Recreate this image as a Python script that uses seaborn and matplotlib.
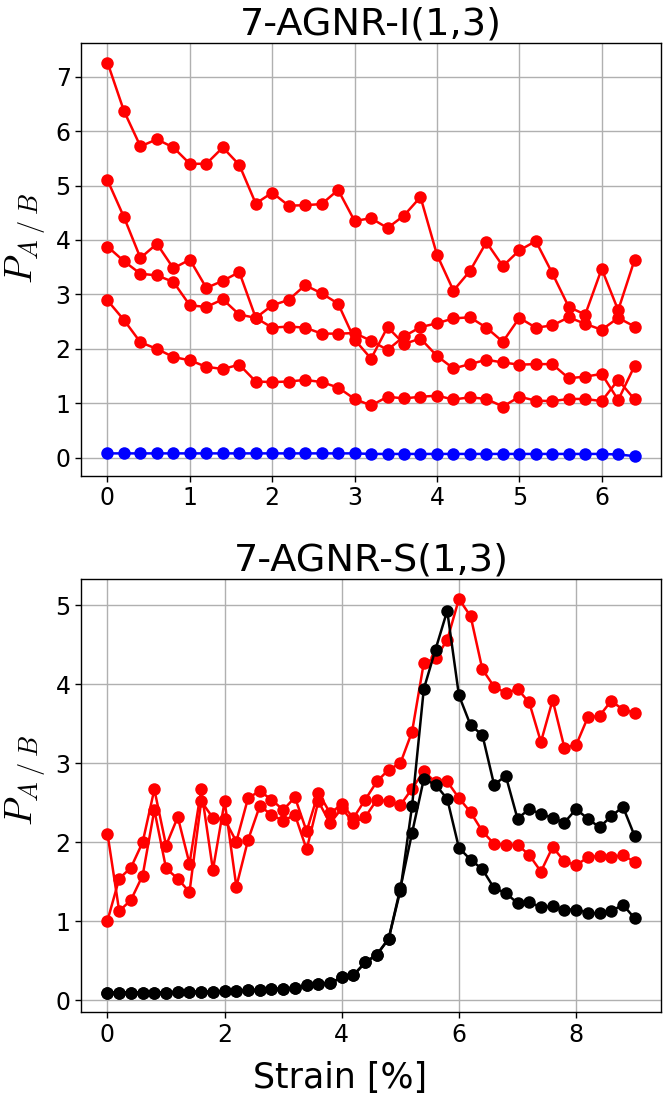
import numpy as np
import pandas as pd
import seaborn as sns
import matplotlib
matplotlib.use("Agg")
import matplotlib.pyplot as plt

# ---- data: 7-AGNR-I(1,3), strain 0..6.4 step 0.2
strain_i = np.round(np.arange(0, 6.41, 0.2), 1)
i_red1 = [7.26, 6.37, 5.72, 5.85, 5.70, 5.40, 5.40, 5.70, 5.38, 4.67, 4.87, 4.63, 4.64, 4.66, 4.92, 4.35, 4.40,
          4.22, 4.45, 4.79, 3.73, 3.07, 3.43, 3.96, 3.52, 3.81, 3.98, 3.39, 2.77, 2.63, 3.47, 2.71, 3.64]
i_red2 = [5.10, 4.42, 3.67, 3.93, 3.48, 3.64, 3.12, 3.25, 3.41, 2.57, 2.80, 2.90, 3.17, 3.02, 2.83, 2.17, 1.82,
          2.40, 2.09, 2.19, 1.87, 1.64, 1.72, 1.80, 1.75, 1.71, 1.72, 1.72, 1.46, 1.49, 1.54, 1.06, 1.69]
i_red3 = [3.88, 3.61, 3.38, 3.35, 3.23, 2.80, 2.77, 2.91, 2.63, 2.57, 2.39, 2.41, 2.39, 2.28, 2.28, 2.29, 2.15,
          1.98, 2.23, 2.40, 2.47, 2.56, 2.58, 2.39, 2.13, 2.57, 2.39, 2.43, 2.58, 2.46, 2.35, 2.57, 2.41]
i_red4 = [2.89, 2.53, 2.12, 2.00, 1.85, 1.79, 1.67, 1.63, 1.71, 1.40, 1.39, 1.40, 1.43, 1.39, 1.29, 1.08, 0.96,
          1.12, 1.09, 1.12, 1.14, 1.07, 1.11, 1.08, 0.94, 1.12, 1.05, 1.04, 1.08, 1.08, 1.04, 1.43, 1.07]
i_blue = [0.08, 0.08, 0.08, 0.08, 0.08, 0.08, 0.08, 0.08, 0.08, 0.08, 0.08, 0.08, 0.08, 0.08, 0.08, 0.08, 0.07,
          0.07, 0.07, 0.07, 0.07, 0.07, 0.07, 0.07, 0.07, 0.07, 0.07, 0.07, 0.07, 0.07, 0.07, 0.06, 0.03]

# ---- data: 7-AGNR-S(1,3), strain 0..9 step 0.2
strain_s = np.round(np.arange(0, 9.01, 0.2), 1)
s_red_hi = [2.11, 1.13, 1.27, 1.58, 2.41, 1.67, 1.54, 1.37, 2.52, 2.31, 2.29, 2.01, 2.56, 2.65, 2.54, 2.41,
            2.57, 2.14, 2.63, 2.37, 2.48, 2.31, 2.54, 2.77, 2.92, 3.00, 3.40, 4.27, 4.33, 4.56, 5.08, 4.86,
            4.19, 3.97, 3.89, 3.94, 3.77, 3.27, 3.80, 3.20, 3.23, 3.58, 3.60, 3.79, 3.68, 3.64]
s_red_lo = [1.01, 1.54, 1.68, 2.00, 2.67, 1.96, 2.32, 1.73, 2.67, 1.65, 2.52, 1.44, 2.03, 2.46, 2.35, 2.27,
            2.35, 1.91, 2.52, 2.24, 2.43, 2.25, 2.32, 2.54, 2.52, 2.47, 2.68, 2.90, 2.76, 2.77, 2.56, 2.38,
            2.14, 1.98, 1.97, 1.97, 1.84, 1.63, 1.94, 1.76, 1.71, 1.81, 1.83, 1.81, 1.84, 1.75]
s_black_common = [0.10, 0.10, 0.10, 0.10, 0.10, 0.10, 0.11, 0.11, 0.11, 0.11, 0.12, 0.12, 0.13, 0.13, 0.14,
                  0.15, 0.16, 0.19, 0.21, 0.22, 0.29, 0.32, 0.48, 0.58, 0.78]
s_black_hi = s_black_common + [1.39, 2.46, 3.94, 4.44, 4.93, 3.86, 3.48, 3.36, 2.73, 2.84, 2.30, 2.42, 2.36,
                               2.31, 2.25, 2.42, 2.30, 2.19, 2.33, 2.45, 2.08]
s_black_lo = s_black_common + [1.42, 2.12, 2.80, 2.73, 2.55, 1.93, 1.78, 1.66, 1.42, 1.36, 1.23, 1.24, 1.18,
                               1.19, 1.15, 1.15, 1.11, 1.10, 1.13, 1.21, 1.04]


def long_df(x, series):
    frames = []
    for name, vals in series.items():
        frames.append(pd.DataFrame({"strain": x, "P": vals, "series": name}))
    return pd.concat(frames, ignore_index=True)


df_i = long_df(strain_i, {"r1": i_red1, "r2": i_red2, "r3": i_red3, "r4": i_red4, "b": i_blue})
df_s = long_df(strain_s, {"rh": s_red_hi, "rl": s_red_lo, "kh": s_black_hi, "kl": s_black_lo})

pal_i = {"r1": "red", "r2": "red", "r3": "red", "r4": "red", "b": "blue"}
pal_s = {"rh": "red", "rl": "red", "kh": "black", "kl": "black"}

sns.set_style("ticks", {"axes.grid": True, "grid.color": "#b0b0b0", "text.color": "black",
                        "axes.labelcolor": "black", "axes.edgecolor": "black",
                        "xtick.color": "black", "ytick.color": "black"})
plt.rcParams["font.family"] = ["DejaVu Sans"]
plt.rcParams["mathtext.fontset"] = "cm"

fig, axes = plt.subplots(2, 1, figsize=(6.65, 10.99), dpi=100)
fig.subplots_adjust(left=0.122, right=0.994, top=0.961, bottom=0.079, hspace=0.239)

line_kw = dict(marker="o", markersize=9, markeredgewidth=0, linewidth=1.8, errorbar=None, legend=False)

ax = axes[0]
sns.lineplot(data=df_i, x="strain", y="P", hue="series", palette=pal_i, ax=ax, **line_kw)
ax.set_title("7-AGNR-I(1,3)", fontsize=27.5, color="black")
ax.set_xticks([0, 1, 2, 3, 4, 5, 6])
ax.set_xlabel("")

ax = axes[1]
sns.lineplot(data=df_s, x="strain", y="P", hue="series", palette=pal_s, ax=ax, **line_kw)
ax.set_title("7-AGNR-S(1,3)", fontsize=27.5, color="black")
ax.set_xticks([0, 2, 4, 6, 8])
ax.set_xlabel("Strain [%]", fontsize=25)
ax.xaxis.set_label_coords(0.447, -0.112)

for ax, ylab_y in zip(axes, [0.548, 0.536]):
    ax.set_ylabel(r"$P_{A\;/\;B}$", fontsize=27)
    ax.yaxis.set_label_coords(-0.057, ylab_y)
    ax.tick_params(labelsize=17, direction="out", length=4, width=1)
    ax.grid(True, color="#b0b0b0", linewidth=1)
    for sp in ax.spines.values():
        sp.set_color("black")
        sp.set_linewidth(1)

fig.savefig("out.png", dpi=100)
